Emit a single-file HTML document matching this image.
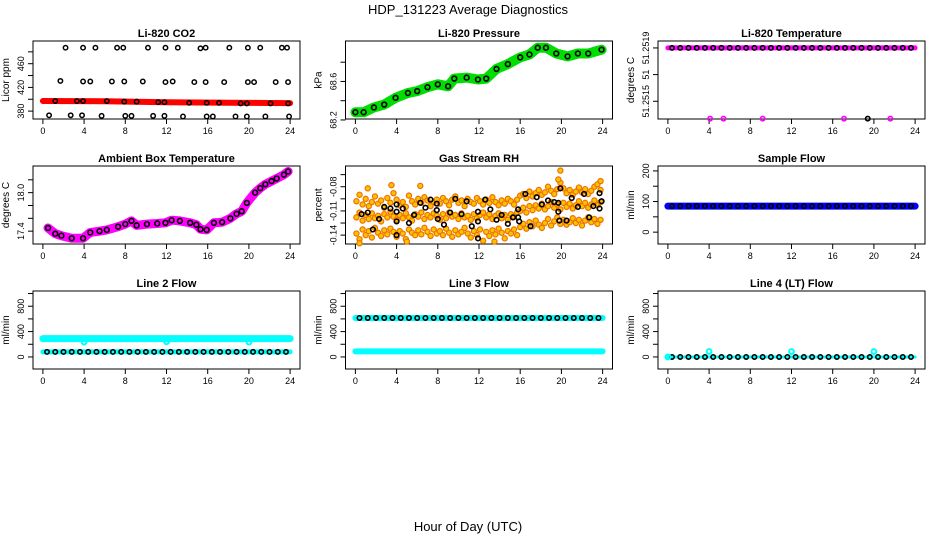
<!DOCTYPE html>
<html><head><meta charset="utf-8"><style>
html,body{margin:0;padding:0;background:#fff}
svg{display:block;font-family:"Liberation Sans",Arial,sans-serif}
</style></head><body>
<svg id="chart" width="936" height="540" viewBox="0 0 936 540" xmlns="http://www.w3.org/2000/svg">
<text x="468" y="14" text-anchor="middle" font-size="13">HDP_131223  Average Diagnostics</text>
<text x="468" y="531" text-anchor="middle" font-size="13">Hour of Day (UTC)</text>
</svg>
<script>
const xTicks = [0,4,8,12,16,20,24];
// CO2
const co2BandHours = [0,6,12,18,24];
const co2BandValues = [397,396.5,395,394,393.5];
const co2TopHours = [2.2,3.9,5.1,7.2,7.8,10.2,11.9,13.1,15.3,15.8,18.1,19.9,21.1,23.2,23.7];
const co2TopValues = [487,487,487,487,487,487,487,487,486,487,487,487,487,487,487];
const co2MidHours = [1.7,3.9,4.6,6.7,7.9,9.7,11.9,12.6,14.7,15.8,17.6,19.9,20.5,22.6,23.8];
const co2MidValues = [431,430,430,430,430,430,429,430,429,429,429,429,429,429,429];
const co2LowHours = [0.6,2.7,3.8,5.7,8.0,8.6,10.7,11.8,13.6,15.9,16.5,18.7,19.8,21.6,23.9];
const co2LowValues = [373,373,373,372,372,372,372,372,371,371,371,371,371,371,371];
const co2LineHours = [1.2,3.3,3.9,6.2,7.9,9.1,11.2,11.8,14.2,15.9,17.1,19.2,19.8,22.1,23.8];
const co2LineValues = [397,397,397,397,396,396,395,395,394,394,394,393,393,393,393];
// Pressure
const presHours = [0,0.8,1.8,2.8,3.9,5.1,6.0,7.0,8.0,9.0,9.6,10.8,11.9,12.7,13.7,14.8,16.0,16.9,17.7,18.5,19.5,20.6,21.6,22.6,23.9];
const presValues = [68.28,68.28,68.33,68.36,68.43,68.48,68.50,68.54,68.57,68.55,68.63,68.64,68.62,68.63,68.73,68.78,68.85,68.88,68.95,68.95,68.89,68.86,68.89,68.89,68.93];
// Li-820 temperature
const gridHours = [0.4,1.2,2.0,2.8,3.6,4.4,5.2,6.0,6.8,7.6,8.4,9.2,10.0,10.8,11.6,12.4,13.2,14.0,14.8,15.6,16.4,17.2,18.0,18.8,19.6,20.4,21.2,22.0,22.8,23.6];
const tempValues = [51.2519,51.2519,51.2519,51.2519,51.2519,51.2519,51.2519,51.2519,51.2519,51.2519,51.2519,51.2519,51.2519,51.2519,51.2519,51.2519,51.2519,51.2519,51.2519,51.2519,51.2519,51.2519,51.2519,51.2519,51.2519,51.2519,51.2519,51.2519,51.2519,51.2519];
const tempOutHours = [4.1,5.4,9.2,17.1,21.6];
const tempOutValues = [51.25137,51.25137,51.25137,51.25137,51.25137];
const tempBlackOutHours = [19.4];
const tempBlackOutValues = [51.25137];
// Ambient
const ambHours = [0.5,1.2,1.8,2.8,3.9,4.6,5.5,6.2,7.3,8.0,8.6,9.1,10.1,11.1,11.9,12.5,13.3,14.3,14.9,15.3,15.9,16.6,17.4,18.2,18.8,19.3,19.8,20.6,21.1,21.6,22.2,22.7,23.4,23.8];
const ambValues = [17.45,17.36,17.33,17.29,17.29,17.38,17.40,17.42,17.47,17.51,17.56,17.49,17.51,17.52,17.53,17.57,17.56,17.53,17.50,17.43,17.42,17.53,17.54,17.60,17.67,17.71,17.84,18.00,18.07,18.13,18.18,18.22,18.28,18.33];
// RH
const rhCloudHours = [0.1,0.4,0.7,1.0,1.3,1.6,1.9,2.2,2.5,2.8,3.1,3.4,3.7,4.0,4.3,4.6,4.9,5.2,5.5,5.8,6.1,6.4,6.7,7.0,7.3,7.6,7.9,8.2,8.5,8.8,9.1,9.4,9.7,10.0,10.3,10.6,10.9,11.2,11.5,11.8,12.1,12.4,12.7,13.0,13.3,13.6,13.9,14.2,14.5,14.8,15.1,15.4,15.7,16.0,16.3,16.6,16.9,17.2,17.5,17.8,18.1,18.4,18.7,19.0,19.3,19.6,19.9,20.2,20.5,20.8,21.1,21.4,21.7,22.0,22.3,22.6,22.9,23.2,23.5,23.8];
const rhUpper = [-0.098,-0.090,-0.102,-0.095,-0.104,-0.099,-0.092,-0.101,-0.097,-0.106,-0.094,-0.100,-0.088,-0.096,-0.103,-0.099,-0.105,-0.091,-0.098,-0.102,-0.095,-0.100,-0.093,-0.097,-0.104,-0.099,-0.096,-0.101,-0.094,-0.098,-0.103,-0.096,-0.092,-0.100,-0.097,-0.104,-0.095,-0.099,-0.101,-0.094,-0.098,-0.102,-0.096,-0.100,-0.093,-0.099,-0.103,-0.097,-0.101,-0.095,-0.098,-0.102,-0.096,-0.091,-0.089,-0.094,-0.086,-0.092,-0.088,-0.084,-0.090,-0.087,-0.080,-0.085,-0.089,-0.083,-0.075,-0.082,-0.088,-0.084,-0.090,-0.086,-0.081,-0.087,-0.083,-0.089,-0.085,-0.080,-0.077,-0.084];
const rhMid = [-0.118,-0.112,-0.122,-0.115,-0.120,-0.113,-0.119,-0.116,-0.123,-0.114,-0.118,-0.111,-0.117,-0.121,-0.115,-0.119,-0.113,-0.118,-0.122,-0.114,-0.117,-0.112,-0.120,-0.115,-0.118,-0.113,-0.116,-0.121,-0.114,-0.119,-0.112,-0.117,-0.115,-0.120,-0.113,-0.118,-0.116,-0.121,-0.114,-0.119,-0.115,-0.112,-0.118,-0.114,-0.120,-0.116,-0.113,-0.119,-0.115,-0.121,-0.114,-0.117,-0.112,-0.110,-0.106,-0.112,-0.104,-0.109,-0.103,-0.107,-0.101,-0.108,-0.104,-0.099,-0.106,-0.102,-0.108,-0.100,-0.105,-0.101,-0.107,-0.103,-0.098,-0.104,-0.100,-0.106,-0.102,-0.097,-0.103,-0.099];
const rhLower = [-0.138,-0.145,-0.133,-0.140,-0.135,-0.143,-0.131,-0.137,-0.141,-0.134,-0.139,-0.132,-0.136,-0.142,-0.135,-0.138,-0.145,-0.133,-0.137,-0.140,-0.134,-0.139,-0.131,-0.136,-0.141,-0.133,-0.138,-0.135,-0.140,-0.132,-0.137,-0.142,-0.134,-0.139,-0.136,-0.131,-0.138,-0.143,-0.135,-0.140,-0.133,-0.147,-0.136,-0.141,-0.134,-0.139,-0.132,-0.137,-0.144,-0.135,-0.138,-0.133,-0.140,-0.130,-0.126,-0.132,-0.124,-0.129,-0.122,-0.127,-0.131,-0.125,-0.120,-0.128,-0.123,-0.118,-0.126,-0.121,-0.127,-0.124,-0.119,-0.125,-0.121,-0.128,-0.122,-0.118,-0.124,-0.120,-0.126,-0.121];
const rhOutHours = [1.2,3.5,6.3,19.7,19.9,23.8,13.5,0.4,5.0];
const rhOutValues = [-0.082,-0.078,-0.079,-0.071,-0.060,-0.073,-0.148,-0.150,-0.148];
const rhDotHours = [0.6,1.2,1.7,2.3,2.8,3.4,4.0,4.0,4.0,4.0,4.6,5.2,5.7,6.3,6.8,7.3,7.9,7.9,8.0,8.6,9.2,9.7,10.3,10.8,11.3,11.9,11.9,11.9,12.6,13.1,13.7,14.2,14.8,15.3,15.8,15.8,15.9,16.5,17.0,17.6,18.1,18.7,19.3,19.7,19.7,19.8,19.9,20.5,21.0,21.6,22.2,22.7,23.1,23.7,23.7,23.9];
const rhDotValues = [-0.114,-0.112,-0.133,-0.120,-0.105,-0.107,-0.102,-0.111,-0.123,-0.140,-0.107,-0.125,-0.115,-0.100,-0.106,-0.096,-0.101,-0.109,-0.120,-0.127,-0.112,-0.095,-0.114,-0.098,-0.129,-0.111,-0.123,-0.144,-0.096,-0.108,-0.121,-0.115,-0.126,-0.118,-0.108,-0.118,-0.123,-0.089,-0.129,-0.093,-0.102,-0.097,-0.099,-0.100,-0.111,-0.122,-0.082,-0.122,-0.094,-0.105,-0.089,-0.118,-0.104,-0.088,-0.107,-0.098];
// Flows
const bandHours = [0,24];
const sampleBandValues = [85,85];
const sampleFlowValues = [85,85,85,85,85,85,85,85,85,85,85,85,85,85,85,85,85,85,85,85,85,85,85,85,85,85,85,85,85,85];
const line2HighBand = [290,290];
const line2DipHours = [4,12,20];
const line2DipValues = [235,240,235];
const line2LowBand = [80,80];
const line2Values = [80,80,80,80,80,80,80,80,80,80,80,80,80,80,80,80,80,80,80,80,80,80,80,80,80,80,80,80,80,80];
const line3HighBand = [615,615];
const line3Values = [615,615,615,615,615,615,615,615,615,615,615,615,615,615,615,615,615,615,615,615,615,615,615,615,615,615,615,615,615,615];
const line3LowBand = [88,88];
const line4Band = [0,0];
const line4Values = [0,0,0,0,0,0,0,0,0,0,0,0,0,0,0,0,0,0,0,0,0,0,0,0,0,0,0,0,0,0];
const line4SpikeHours = [0,4,12,20];
const line4SpikeValues = [0,85,85,85];

const NS = 'http://www.w3.org/2000/svg';
const svg = document.getElementById('chart');
const COLS = [33, 345.5, 658], ROWS = [41, 166, 291], BW = 267, BH = 78;

function mk(tag, attrs, parent) {
  const e = document.createElementNS(NS, tag);
  for (const k in attrs) e.setAttribute(k, attrs[k]);
  (parent || svg).appendChild(e);
  return e;
}

function panel(cfg) {
  const L = COLS[cfg.col], T = ROWS[cfg.row];
  const g = mk('g', {});
  
  
  const xs = h => L + (h + 0.96) * BW / 25.92;
  const ys = v => T + BH - (v - cfg.ylim[0]) / (cfg.ylim[1] - cfg.ylim[0]) * BH;
  const box = mk('rect', {x: L, y: T, width: BW, height: BH, fill: 'none', stroke: '#000', 'stroke-width': 1}, g);
  
  
  const title = mk('text', {x: L + BW / 2, y: T - 4, 'text-anchor': 'middle', 'font-size': 11, 'font-weight': 'bold'}, g);
  title.textContent = cfg.title;
  
  
  const yl = mk('text', {transform: `translate(${L - 24},${T + BH / 2}) rotate(-90)`, 'text-anchor': 'middle', 'font-size': 10}, g);
  yl.textContent = cfg.ylabel;
  
  
  xTicks.forEach(t => {
    const x = xs(t);
    const tk = mk('line', {x1: x, x2: x, y1: T + BH, y2: T + BH + 5, stroke: '#000'}, g);
    
    
    const lb = mk('text', {x: x, y: T + BH + 15, 'text-anchor': 'middle', 'font-size': 9}, g);
    lb.textContent = t;
    
    
  });
  cfg.yticks.forEach((t, i) => {
    const y = ys(t);
    const tk = mk('line', {x1: L - 5, x2: L, y1: y, y2: y, stroke: '#000'}, g);
    
    
    if (cfg.ylabels[i]) {
      const lb = mk('text', {transform: `translate(${L - 9},${y}) rotate(-90)`, 'text-anchor': 'middle', 'font-size': 9}, g);
      lb.textContent = cfg.ylabels[i];
      
      
    }
  });
  return {g, xs, ys};
}

function band(p, hours, vals, color, w, name) {
  const pts = hours.map((h, i) => p.xs(h).toFixed(1) + ',' + p.ys(vals[i]).toFixed(1)).join(' ');
  const pl = mk('polyline', {points: pts, fill: 'none', stroke: color, 'stroke-width': w, 'stroke-linejoin': 'round', 'stroke-linecap': 'round'}, p.g);
  
  
}
function dots(p, hours, vals, stroke, fill, r, sw, name) {
  hours.forEach((h, i) => {
    const c = mk('circle', {cx: p.xs(h), cy: p.ys(vals[i]), r: r, fill: fill, stroke: stroke, 'stroke-width': sw}, p.g);
    
    
  });
}

// CO2
let p = panel({col:0,row:0,name:'co2',title:'Li-820 CO2',ylabel:'Licor ppm',ylim:[366.7,498.3],yticks:[380,400,420,440,460,480],ylabels:['380','','420','','460','']});
band(p, co2BandHours, co2BandValues, '#ff0000', 6, 'co2-red-band');
dots(p, co2TopHours, co2TopValues, '#000', 'none', 2.2, 1.5, 'co2-point');
dots(p, co2MidHours, co2MidValues, '#000', 'none', 2.2, 1.5, 'co2-point');
dots(p, co2LowHours, co2LowValues, '#000', 'none', 2.2, 1.5, 'co2-point');
dots(p, co2LineHours, co2LineValues, '#000', 'none', 2.2, 1.5, 'co2-point');
// Pressure
p = panel({col:1,row:0,name:'pressure',title:'Li-820 Pressure',ylabel:'kPa',ylim:[68.21,69.02],yticks:[68.2,68.4,68.6,68.8],ylabels:['68.2','','68.6','']});
band(p, presHours, presValues, '#00dd00', 10, 'pressure-green-band');
dots(p, presHours, presValues, '#000', 'none', 2.4, 1.6, 'pressure-point');
// Temperature
p = panel({col:2,row:0,name:'li820-temp',title:'Li-820 Temperature',ylabel:'degrees C',ylim:[51.251367,51.251952],yticks:[51.2519,51.2517,51.2515],ylabels:['51.2519','51','51.2515']});
band(p, bandHours, [51.2519,51.2519], '#ff00ff', 5, 'li820-temp-band');
dots(p, gridHours, tempValues, '#000', 'none', 2.2, 1.6, 'li820-temp-point');
dots(p, tempOutHours, tempOutValues, '#ff00ff', 'none', 2.2, 1.6, 'li820-temp-outlier');
dots(p, tempBlackOutHours, tempBlackOutValues, '#000', 'none', 2.2, 1.6, 'li820-temp-outlier');
// Ambient
p = panel({col:0,row:1,name:'ambient-temp',title:'Ambient Box Temperature',ylabel:'degrees C',ylim:[17.2,18.415],yticks:[17.4,17.6,17.8,18.0,18.2],ylabels:['17.4','','','18.0','']});
band(p, ambHours, ambValues, '#ff00ff', 9, 'ambient-temp-band');
dots(p, ambHours, ambValues, '#000', 'none', 2.4, 1.6, 'ambient-temp-point');
// RH
p = panel({col:1,row:1,name:'gas-rh',title:'Gas Stream RH',ylabel:'percent',ylim:[-0.151,-0.0543],yticks:[-0.14,-0.125,-0.11,-0.095,-0.08,-0.065],ylabels:['-0.14','','-0.11','','-0.08','']});
dots(p, rhCloudHours, rhUpper, '#f07000', '#f8c400', 2.6, 1.2, 'rh-cloud-point');
dots(p, rhCloudHours, rhMid, '#f07000', '#f8c400', 2.6, 1.2, 'rh-cloud-point');
dots(p, rhCloudHours, rhLower, '#f07000', '#f8c400', 2.6, 1.2, 'rh-cloud-point');
dots(p, rhOutHours, rhOutValues, '#f07000', '#f8c400', 2.6, 1.2, 'rh-cloud-point');
dots(p, rhDotHours, rhDotValues, '#000', 'none', 2.3, 1.6, 'rh-point');
// Sample flow
p = panel({col:2,row:1,name:'sample-flow',title:'Sample Flow',ylabel:'ml/min',ylim:[-38.7,216],yticks:[0,50,100,150,200],ylabels:['0','','100','','200']});
band(p, bandHours, sampleBandValues, '#0000ff', 7, 'sample-flow-band');
dots(p, gridHours, sampleFlowValues, '#000', 'none', 2.2, 1.6, 'sample-flow-point');
// Line 2
p = panel({col:0,row:2,name:'line2-flow',title:'Line 2 Flow',ylabel:'ml/min',ylim:[-190,1040],yticks:[0,200,400,600,800,1000],ylabels:['0','','400','','800','']});
band(p, bandHours, line2HighBand, '#00ffff', 7, 'line2-high-band');
dots(p, line2DipHours, line2DipValues, '#00ffff', 'none', 2.4, 2, 'line2-dip');
band(p, bandHours, line2LowBand, '#00ffff', 5, 'line2-low-band');
dots(p, gridHours, line2Values, '#000', 'none', 2.2, 1.6, 'line2-point');
// Line 3
p = panel({col:1,row:2,name:'line3-flow',title:'Line 3 Flow',ylabel:'ml/min',ylim:[-190,1040],yticks:[0,200,400,600,800,1000],ylabels:['0','','400','','800','']});
band(p, bandHours, line3HighBand, '#00ffff', 6, 'line3-high-band');
dots(p, gridHours, line3Values, '#000', 'none', 2.2, 1.6, 'line3-point');
band(p, bandHours, line3LowBand, '#00ffff', 6, 'line3-low-band');
// Line 4
p = panel({col:2,row:2,name:'line4-flow',title:'Line 4 (LT) Flow',ylabel:'ml/min',ylim:[-190,1040],yticks:[0,200,400,600,800,1000],ylabels:['0','','400','','800','']});
band(p, bandHours, line4Band, '#00ffff', 3, 'line4-band');
dots(p, gridHours, line4Values, '#000', 'none', 2.2, 1.6, 'line4-point');
dots(p, line4SpikeHours, line4SpikeValues, '#00ffff', 'none', 2.4, 2, 'line4-spike');
</script>
</body></html>
